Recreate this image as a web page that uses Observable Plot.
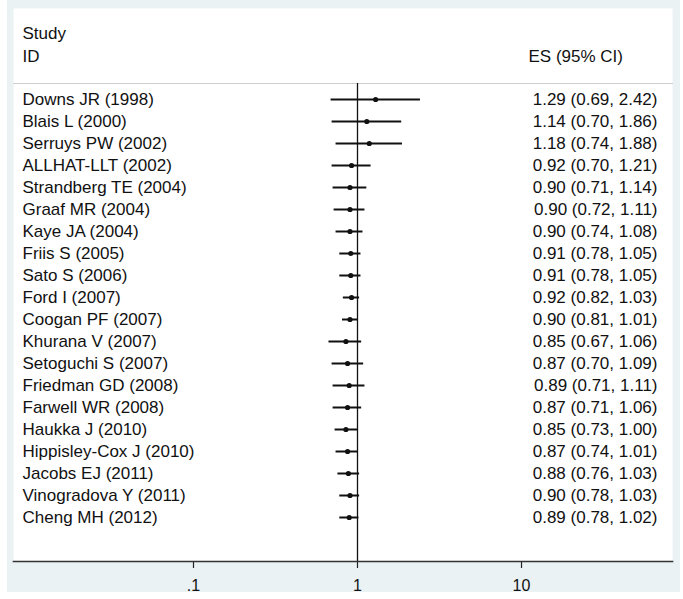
<!DOCTYPE html>
<html>
<head>
<meta charset="utf-8">
<script src="https://cdn.jsdelivr.net/npm/d3@7"></script>
<script src="https://cdn.jsdelivr.net/npm/@observablehq/plot@0.6"></script>
<style>
  html, body { margin: 0; padding: 0; background: #ffffff; }
  #wrap { position: relative; width: 683px; height: 599px; }
  #panel { position: absolute; left: 7px; top: 0px; width: 673px; height: 592px; background: #eaf2f3; }
  #chart { position: absolute; left: 0; top: 0; }
</style>
</head>
<body>
<div id="wrap"><div id="panel"></div><div id="chart"></div></div>
<script>
const studies = [
  "Downs JR (1998)", "Blais L (2000)", "Serruys PW (2002)", "ALLHAT-LLT (2002)",
  "Strandberg TE (2004)", "Graaf MR (2004)", "Kaye JA (2004)", "Friis S (2005)",
  "Sato S (2006)", "Ford I (2007)", "Coogan PF (2007)", "Khurana V (2007)",
  "Setoguchi S (2007)", "Friedman GD (2008)", "Farwell WR (2008)", "Haukka J (2010)",
  "Hippisley-Cox J (2010)", "Jacobs EJ (2011)", "Vinogradova Y (2011)", "Cheng MH (2012)"
];
const es    = [1.29, 1.14, 1.18, 0.92, 0.90, 0.90, 0.90, 0.91, 0.91, 0.92, 0.90, 0.85, 0.87, 0.89, 0.87, 0.85, 0.87, 0.88, 0.90, 0.89];
const lower = [0.69, 0.70, 0.74, 0.70, 0.71, 0.72, 0.74, 0.78, 0.78, 0.82, 0.81, 0.67, 0.70, 0.71, 0.71, 0.73, 0.74, 0.76, 0.78, 0.78];
const upper = [2.42, 1.86, 1.88, 1.21, 1.14, 1.11, 1.08, 1.05, 1.05, 1.03, 1.01, 1.06, 1.09, 1.11, 1.06, 1.00, 1.01, 1.03, 1.03, 1.02];
const tickValues = [0.1, 1, 10];
const tickLabels = [".1", "1", "10"];
const headerTop = "Study";
const headerLeft = "ID";
const headerRight = "ES (95% CI)";

const fmt = d3.format(".2f");
const rows = studies.map((s, i) => ({
  study: s, es: es[i], lo: lower[i], hi: upper[i],
  label: `${fmt(es[i])} (${fmt(lower[i])}, ${fmt(upper[i])})`
}));

const font = "'Liberation Sans', Arial, Helvetica, sans-serif";

const chart = Plot.plot({
  width: 683,
  height: 599,
  marginLeft: 13,
  marginRight: 11,
  marginTop: 8,
  marginBottom: 38,
  style: { fontFamily: font, background: "transparent", color: "#111", overflow: "visible" },
  x: { type: "log", domain: [0.00799, 83.3] },
  y: { type: "point", domain: studies, range: [98, 517], padding: 0, axis: null },
  marks: [
    Plot.frame({ fill: "white", stroke: "none" }),
    Plot.frame({ anchor: "top", insetTop: 75, stroke: "#cfcfcf", strokeWidth: 1 }),
    Plot.ruleX([1], { insetTop: 75, stroke: "#111", strokeWidth: 1.3 }),
    Plot.ruleY(rows, { y: "study", x1: "lo", x2: "hi", stroke: "#111", strokeWidth: 2 }),
    Plot.dot(rows, { y: "study", x: "es", r: 2.6, fill: "#111", stroke: "none" }),
    Plot.text(rows, { y: "study", text: "study", frameAnchor: "left", dx: 9, textAnchor: "start", fontSize: 17, fill: "#111" }),
    Plot.text(rows, { y: "study", text: "label", frameAnchor: "right", dx: -15, textAnchor: "end", fontSize: 17, fill: "#111" }),
    Plot.text([headerTop], { text: d => d, frameAnchor: "top-left", dx: 9, dy: 25, lineAnchor: "middle", textAnchor: "start", fontSize: 17, fill: "#111" }),
    Plot.text([headerLeft], { text: d => d, frameAnchor: "top-left", dx: 9, dy: 48, lineAnchor: "middle", textAnchor: "start", fontSize: 17, fill: "#111" }),
    Plot.text([headerRight], { text: d => d, frameAnchor: "top-right", dx: -144, dy: 48, lineAnchor: "middle", textAnchor: "start", fontSize: 17, fill: "#111" }),
    Plot.axisX({ ticks: tickValues, tickFormat: d => tickLabels[tickValues.findIndex(v => Math.abs(v - d) < 1e-9)], tickSize: 7, tickPadding: 11, strokeWidth: 1.2, fontSize: 16, stroke: "#222", fill: "#111", label: null }),
    Plot.frame({ anchor: "bottom", stroke: "#333", strokeWidth: 1.6 })
  ]
});
document.getElementById("chart").appendChild(chart);
</script>
</body>
</html>
